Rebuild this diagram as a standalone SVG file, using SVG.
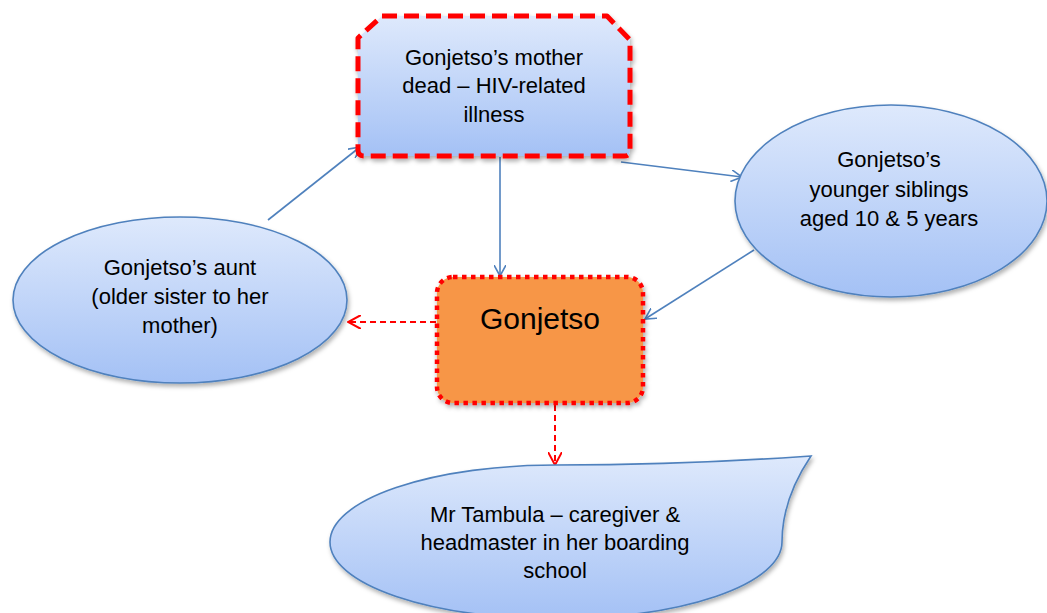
<svg xmlns="http://www.w3.org/2000/svg" width="1047" height="613" viewBox="0 0 1047 613">
<style>
  text { font-family: "Liberation Sans", Arial, sans-serif; font-size: 22px; fill: #000; text-anchor: middle; }
  .blue { fill: url(#gBlue); stroke: #4f81bd; stroke-width: 1.6; filter: url(#sh); }
  .conn { stroke: #4f81bd; stroke-width: 1.6; fill: none; marker-end: url(#aBlue); }
  .rconn { stroke: #ff0000; stroke-width: 2; stroke-dasharray: 6 4; fill: none; marker-end: url(#aRed); }
</style>
<defs>
  <linearGradient id="gBlue" x1="0" y1="0" x2="0" y2="1">
    <stop offset="0" stop-color="#dee9fc"/>
    <stop offset="1" stop-color="#a4c1f5"/>
  </linearGradient>
  <filter id="sh" x="-10%" y="-10%" width="130%" height="130%">
    <feDropShadow dx="1.5" dy="3" stdDeviation="2" flood-color="#000" flood-opacity="0.3"/>
  </filter>
  <marker id="aBlue" viewBox="0 0 12 12" refX="11" refY="6" markerWidth="12" markerHeight="12" markerUnits="userSpaceOnUse" orient="auto">
    <path d="M0,0 L11,6 L0,12" fill="none" stroke="#4f81bd" stroke-width="1.6"/>
  </marker>
  <marker id="aRed" viewBox="0 0 14 14" refX="13" refY="7" markerWidth="14" markerHeight="14" markerUnits="userSpaceOnUse" orient="auto">
    <path d="M0,0 L13,7 L0,14" fill="none" stroke="#ff0000" stroke-width="2"/>
  </marker>
</defs>
<rect width="1047" height="613" fill="#fff"/>

<g id="connectors">
  <line class="conn" x1="268" y1="220" x2="360" y2="147"/>
  <line class="conn" x1="500" y1="157" x2="500" y2="276"/>
  <line class="conn" x1="621" y1="162" x2="742" y2="177"/>
  <line class="conn" x1="754" y1="250" x2="645" y2="319"/>
  <line class="rconn" x1="436" y1="322" x2="348" y2="322"/>
  <line class="rconn" x1="555" y1="405" x2="555" y2="465"/>
</g>

<g id="mother">
  <path d="M382,16 L607,16 L630,40 L630,150 Q630,156 624,156 L364,156 Q358,156 358,150 L358,38 Z" fill="url(#gBlue)" stroke="#ff0000" stroke-width="5" stroke-dasharray="15 7" stroke-linejoin="round" filter="url(#sh)"/>
  <text x="494" y="65">Gonjetso’s mother</text>
  <text x="494" y="93">dead – HIV-related</text>
  <text x="494" y="122">illness</text>
</g>

<g id="aunt">
  <ellipse class="blue" cx="180" cy="300" rx="167" ry="83"/>
  <text x="180" y="275">Gonjetso’s aunt</text>
  <text x="180" y="304">(older sister to her</text>
  <text x="180" y="333">mother)</text>
</g>

<g id="siblings">
  <ellipse class="blue" cx="891" cy="201" rx="156" ry="96"/>
  <text x="889" y="167">Gonjetso’s</text>
  <text x="889" y="197">younger siblings</text>
  <text x="889" y="226">aged 10 &amp; 5 years</text>
</g>

<g id="gonjetso">
  <rect x="437" y="277" width="206" height="126" rx="16" ry="16" fill="#f79646" stroke="#ff0000" stroke-width="4.5" stroke-dasharray="4.5 4.5" filter="url(#sh)"/>
  <text x="540" y="329" style="font-size:30px">Gonjetso</text>
</g>

<g id="tambula">
  <path class="blue" d="M330,542 A226,77 0 0 1 556,465 Q683.5,465 811,456 Q782,499 782,542 A226,77 0 0 1 556,619 A226,77 0 0 1 330,542 Z"/>
  <text x="555" y="522">Mr Tambula – caregiver &amp;</text>
  <text x="555" y="550">headmaster in her boarding</text>
  <text x="555" y="578">school</text>
</g>
</svg>
